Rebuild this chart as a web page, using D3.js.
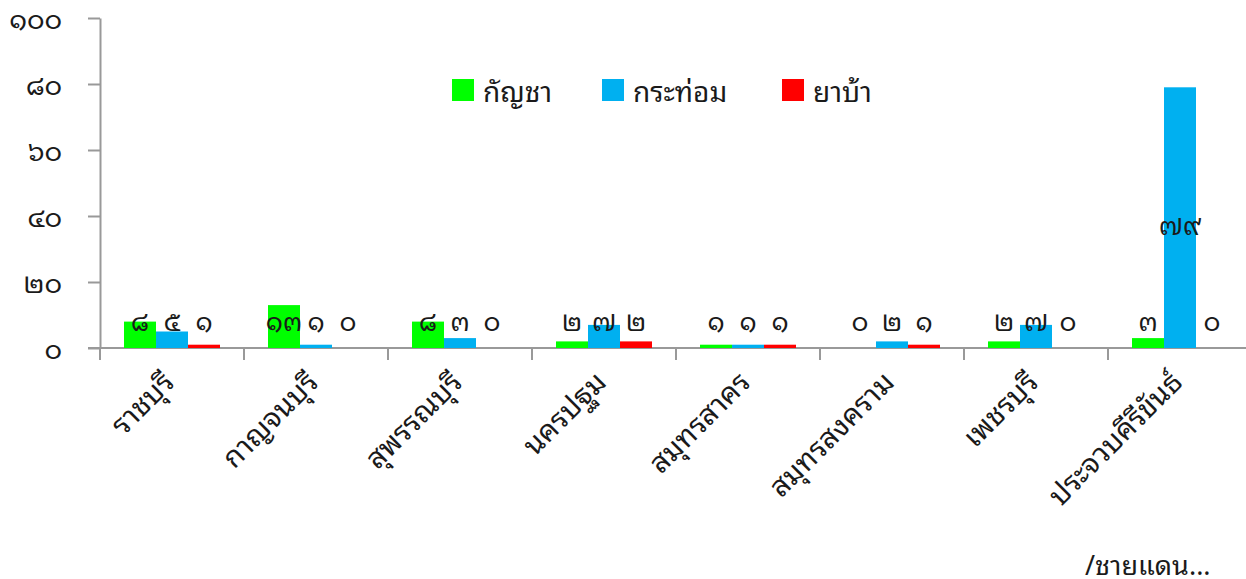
<!DOCTYPE html>
<html>
<head>
<meta charset="utf-8">
<script src="https://cdn.jsdelivr.net/npm/d3@7"></script>
<style>
  body { margin: 0; background: #fff; }
  text { font-family: "Noto Sans Thai Looped", "Loma", "Garuda", "Tlwg Typo", "Noto Serif Thai", "Noto Sans Thai", "Noto Sans", sans-serif; fill: #1a1a1a; }
</style>
</head>
<body>
<script>
'use strict';

// data
const provinces = ["ราชบุรี", "กาญจนบุรี", "สุพรรณบุรี", "นครปฐม", "สมุทรสาคร", "สมุทรสงคราม", "เพชรบุรี", "ประจวบคีรีขันธ์"];
const seriesNames = ["กัญชา", "กระท่อม", "ยาบ้า"];
const kanchaValues = [8, 13, 8, 2, 1, 0, 2, 3];
const krathomValues = [5, 1, 3, 7, 1, 2, 7, 79];
const yabaValues = [1, 0, 0, 2, 1, 1, 0, 0];
const yTicks = [0, 20, 40, 60, 80, 100];
const footText = "/ชายแดน...";

const colors = ["#00ff00", "#00b0f0", "#ff0000"];
const seriesValues = [kanchaValues, krathomValues, yabaValues];

// thai digits
const thaiDigits = "๐๑๒๓๔๕๖๗๘๙";
function toThai(n) {
  return String(n).replace(/[0-9]/g, d => thaiDigits[+d]);
}

const width = 1246, height = 579;
const svg = d3.select("body").append("svg")
  .attr("width", width)
  .attr("height", height);

// scales
const x = d3.scaleBand()
  .domain(provinces)
  .range([100, 1252])
  .paddingInner(0)
  .paddingOuter(0);

const xSub = d3.scaleBand()
  .domain(seriesNames)
  .range([0, x.bandwidth()])
  .paddingInner(0)
  .paddingOuter(0.75);

const y = d3.scaleLinear()
  .domain([0, 100])
  .range([348, 18]);

// y axis
const yAxis = d3.axisLeft(y)
  .tickValues(yTicks)
  .tickSize(12)
  .tickSizeOuter(0)
  .tickPadding(26)
  .tickFormat(toThai);

const yg = svg.append("g")
  .attr("transform", "translate(100,0)")
  .call(yAxis);
yg.selectAll("path, line").attr("stroke", "#999").attr("stroke-width", 2);
yg.selectAll("text").style("font-size", "27px").attr("dy", "0.4em").attr("fill", "#1a1a1a");

// x axis line + category ticks at band edges
svg.append("line")
  .attr("x1", 88).attr("x2", width)
  .attr("y1", y(0)).attr("y2", y(0))
  .attr("stroke", "#999").attr("stroke-width", 2);

svg.selectAll(".xtick")
  .data(provinces)
  .enter()
  .append("line")
  .attr("class", "xtick")
  .attr("x1", d => x(d)).attr("x2", d => x(d))
  .attr("y1", y(0)).attr("y2", y(0) + 12)
  .attr("stroke", "#999").attr("stroke-width", 2);

svg.selectAll(".xlabel")
  .data(provinces)
  .enter()
  .append("text")
  .attr("class", "xlabel")
  .attr("text-anchor", "end")
  .attr("transform", d => `translate(${x(d) + x.bandwidth() / 2 + 4},${y(0) + 36}) rotate(-45)`)
  .style("font-size", "29px")
  .text(d => d);

// bars
const groups = svg.selectAll(".group")
  .data(provinces)
  .enter()
  .append("g")
  .attr("class", "group")
  .attr("transform", d => `translate(${x(d)},0)`);

const cells = groups.selectAll("rect")
  .data((d, i) => seriesNames.map((s, j) => ({ s: s, v: seriesValues[j][i], c: colors[j] })))
  .enter();

cells.append("rect")
  .attr("x", d => xSub(d.s))
  .attr("y", d => y(d.v))
  .attr("width", xSub.bandwidth())
  .attr("height", d => y(0) - y(d.v))
  .attr("fill", d => d.c);

// value labels
groups.selectAll(".vlabel")
  .data((d, i) => seriesNames.map((s, j) => ({ s: s, v: seriesValues[j][i] })))
  .enter()
  .append("text")
  .attr("class", "vlabel")
  .attr("x", d => xSub(d.s) + xSub.bandwidth() / 2)
  .attr("y", d => y(Math.max(d.v / 2, 10.3)) + 5)
  .attr("text-anchor", "middle")
  .attr("dominant-baseline", "central")
  .style("font-size", "26px")
  .text(d => toThai(d.v));

// legend
const legendX = [452, 602, 782];
const legend = svg.selectAll(".legend")
  .data(seriesNames)
  .enter()
  .append("g")
  .attr("class", "legend")
  .attr("transform", (d, i) => `translate(${legendX[i]},79)`);

legend.append("rect")
  .attr("width", 22).attr("height", 22)
  .attr("fill", (d, i) => colors[i]);

legend.append("text")
  .attr("x", 31).attr("y", 10)
  .attr("dominant-baseline", "central")
  .style("font-size", "28px")
  .text(d => d);

// trailing footer text
svg.append("text")
  .attr("x", 1085).attr("y", 562)
  .attr("dominant-baseline", "central")
  .style("font-size", "27px")
  .text(footText);
</script>
</body>
</html>
